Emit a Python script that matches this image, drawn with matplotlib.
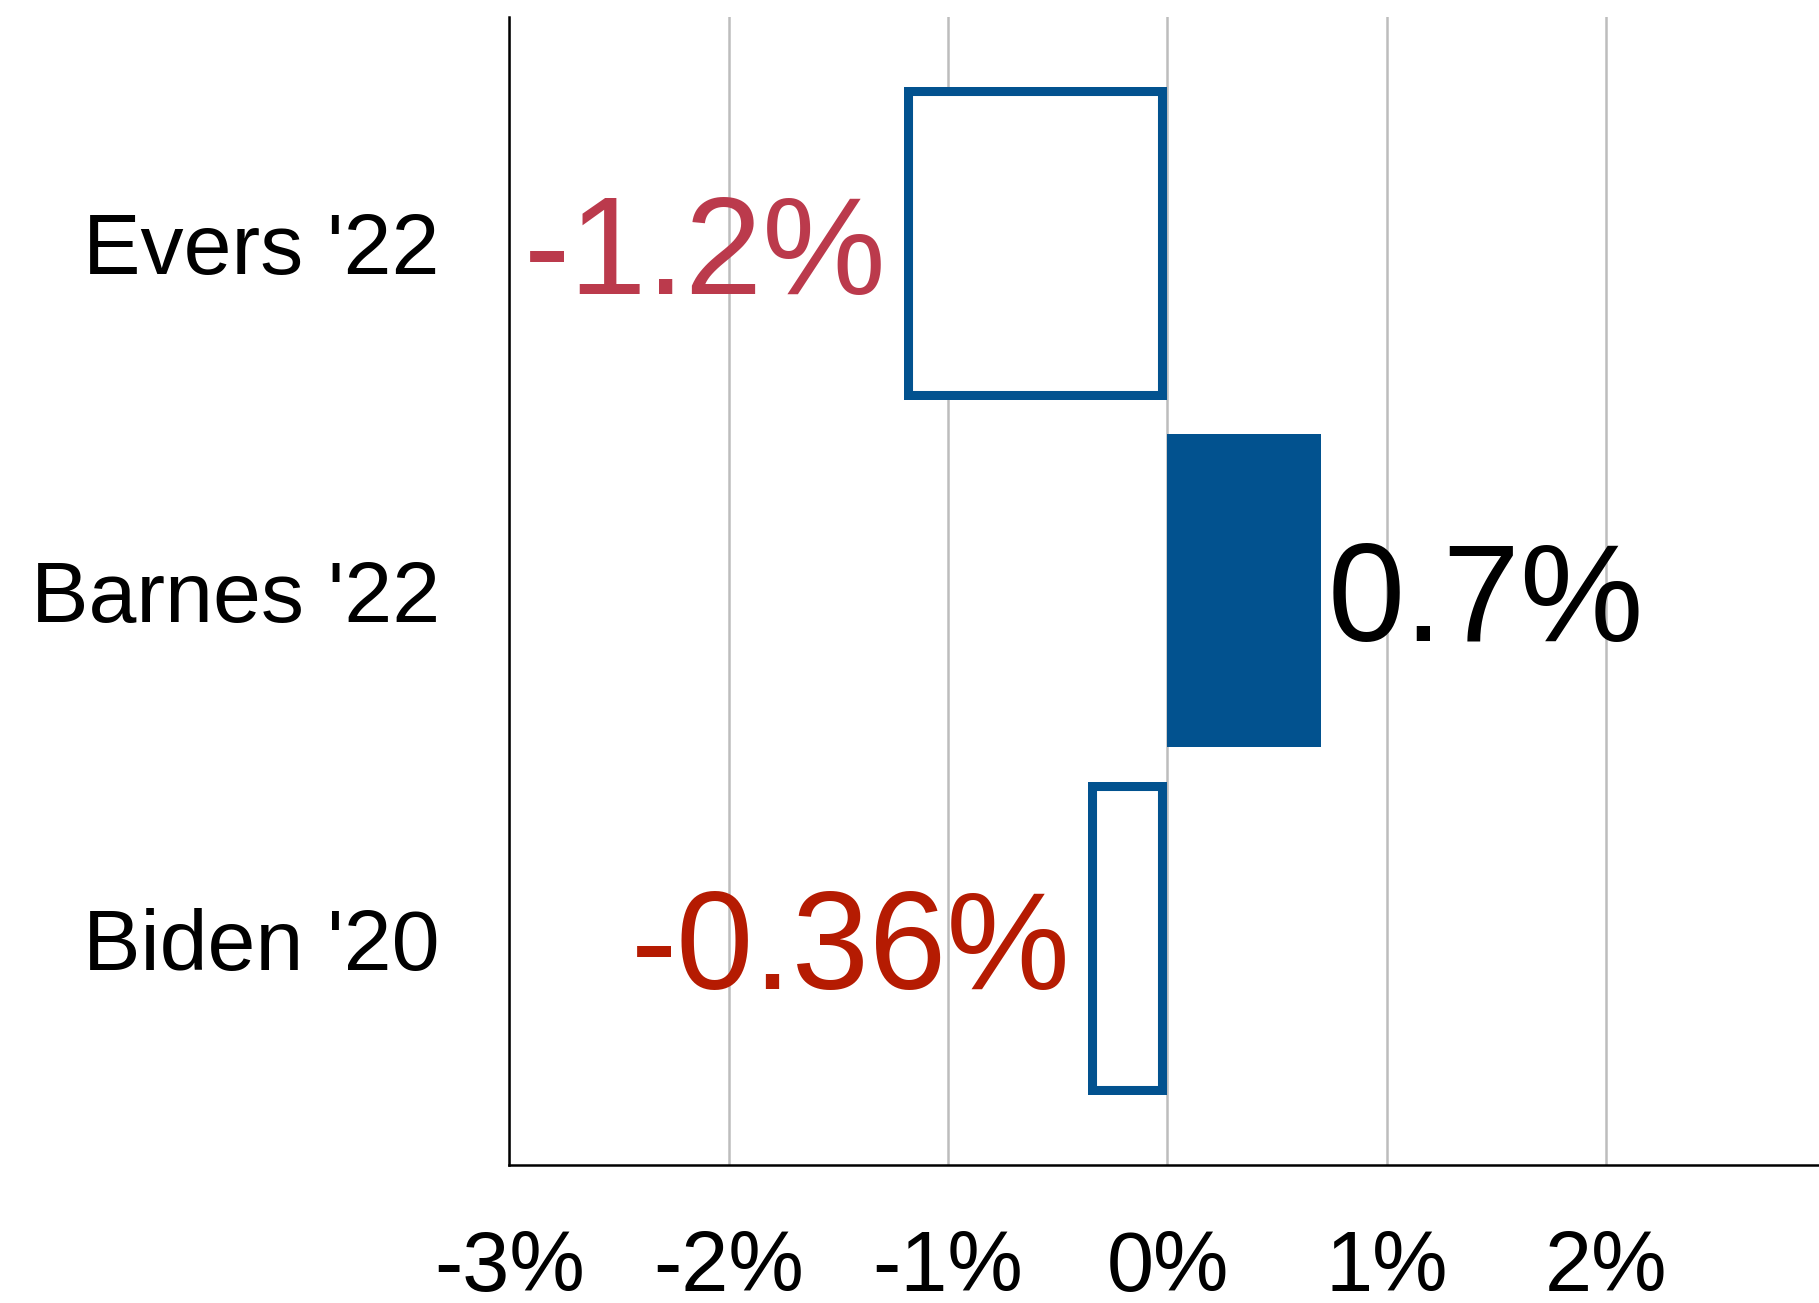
import numpy as np
import matplotlib.pyplot as plt

plt.rcParams['font.family'] = ['Liberation Sans', 'DejaVu Sans']

candidates = ["Biden '20", "Barnes '22", "Evers '22"]
shift = [-0.36, 0.7, -1.2]
labels = ["-0.36%", "0.7%", "-1.2%"]
label_colors = ["#b51b02", "#000000", "#bb3a4c"]
filled = [False, True, False]
xticks = [-3, -2, -1, 0, 1, 2]

blue = "#02528f"

fig = plt.figure(figsize=(18.19, 13.03), dpi=100)
ax = fig.add_axes([0.280, 0.106, 0.720, 0.881])

y = np.arange(len(candidates))
for i in range(len(candidates)):
    if filled[i]:
        ax.barh(y[i], shift[i], height=0.9, color=blue, edgecolor="none", zorder=3)
    else:
        bars = ax.barh(y[i], shift[i], height=0.9, facecolor="white", edgecolor=blue,
                       linewidth=13, zorder=3)
        # keep the outline on the inside of the box
        for p in bars:
            p.set_clip_path(p)

    # value text sits just outside the end of each bar
    if shift[i] < 0:
        ax.annotate(labels[i], xy=(shift[i], y[i]), xytext=(-18, 0),
                    textcoords="offset pixels", ha="right", va="center_baseline",
                    fontsize=100, color=label_colors[i], zorder=4)
    else:
        ax.annotate(labels[i], xy=(shift[i], y[i]), xytext=(7, 0),
                    textcoords="offset pixels", ha="left", va="center_baseline",
                    fontsize=100, color=label_colors[i], zorder=4)

ax.set_xlim(-3, 2.97)
ax.set_ylim(-0.65, 2.65)
ax.set_xticks(xticks)
ax.set_xticklabels([f"{t}%" for t in xticks])
ax.set_yticks(y)
ax.set_yticklabels(candidates)
ax.tick_params(axis="x", length=0, pad=46, labelsize=61)
ax.tick_params(axis="y", length=0, pad=50, labelsize=62)

ax.grid(axis="x", color="#bdbdbd", linewidth=1.8, zorder=0)
ax.set_axisbelow(True)
for side in ["top", "right"]:
    ax.spines[side].set_visible(False)
for side in ["left", "bottom"]:
    ax.spines[side].set_linewidth(1.8)
    ax.spines[side].set_color("black")

fig.savefig("out.png", dpi=100)
